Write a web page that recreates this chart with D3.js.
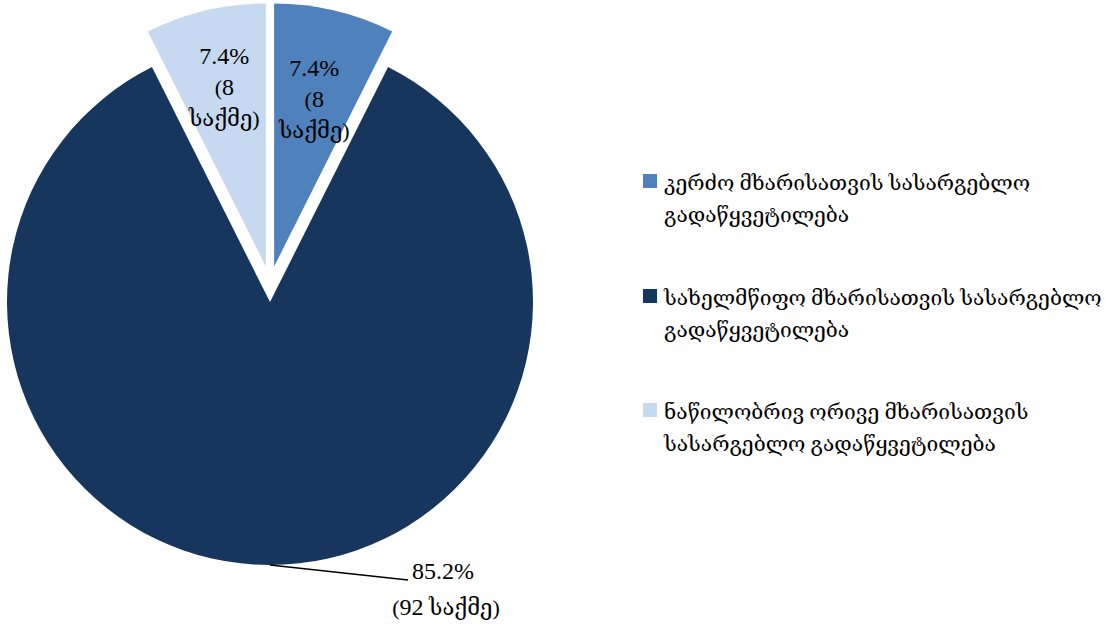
<!DOCTYPE html>
<html><head><meta charset="utf-8">
<script src="https://cdn.jsdelivr.net/npm/d3@7"></script>
<style>
body{margin:0;background:#fff;}
svg{display:block;}
text{font-family:"Liberation Serif","DejaVu Serif",serif;fill:#000;}
.num{font-size:24px;}
</style></head>
<body><svg id="c" width="1120" height="624"></svg>
<script>
const categories = ["კერძო მხარისათვის სასარგებლო გადაწყვეტილება",
  "სახელმწიფო მხარისათვის სასარგებლო გადაწყვეტილება",
  "ნაწილობრივ ორივე მხარისათვის სასარგებლო გადაწყვეტილება"];
const legendLines = [["კერძო მხარისათვის სასარგებლო","გადაწყვეტილება"],
  ["სახელმწიფო მხარისათვის სასარგებლო","გადაწყვეტილება"],
  ["ნაწილობრივ ორივე მხარისათვის","სასარგებლო გადაწყვეტილება"]];
const counts = [8, 92, 8];
const percents = ["7.4%", "85.2%", "7.4%"];
const caseWord = "საქმე";
const colors = ["#4F81BD", "#17365D", "#C6D9F1"];

const svg = d3.select("#c");
const cx = 270, cy = 284, R = 263, explode = 18;
const pie = d3.pie().sort(null).value(d => d)(counts);
const arc = d3.arc().innerRadius(0).outerRadius(R);
const g = svg.append("g").attr("transform", `translate(${cx},${cy})`);

function off(d, r) {
  const a = (d.startAngle + d.endAngle) / 2;
  return [Math.sin(a) * r, -Math.cos(a) * r];
}
g.selectAll("path").data(pie).join("path")
  .attr("d", arc)
  .attr("fill", (d, i) => colors[i])
  .attr("transform", d => { const o = off(d, explode); return `translate(${o[0]},${o[1]})`; });

const fs = 22, lh = 31;
const labelR = [174, 0, 180];
const labelDy = [3, 0, -3];
pie.forEach((d, i) => {
  if (i === 1) return;
  const o = off(d, explode);
  const p = off(d, labelR[i]);
  const x = o[0] + p[0], y = o[1] + p[1] + labelDy[i];
  const t = g.append("text").attr("text-anchor", "middle").style("font-size", fs + "px");
  t.append("tspan").attr("class", "num").attr("x", x).attr("y", y - lh + 7).text(percents[i]);
  t.append("tspan").attr("x", x).attr("y", y + 7).text("(").append("tspan").attr("class", "num").text(counts[i]);
  t.append("tspan").attr("x", x).attr("y", y + lh + 7).text(caseWord + ")");
});

{
  const d = pie[1];
  const o = off(d, explode);
  const e = off(d, R);
  const sx = o[0] + e[0], sy = o[1] + e[1];
  const ex = 408 - cx, ey = 580 - cy;
  g.append("path").attr("d", `M${sx},${sy}L${ex},${ey}`).attr("stroke", "#000").attr("stroke-width", 1.3).attr("fill", "none");
  const t = g.append("text").attr("text-anchor", "middle").style("font-size", fs + "px");
  t.append("tspan").attr("class", "num").attr("x", 443 - cx).attr("y", 579 - cy).text(percents[1]);
  const t2 = g.append("text").attr("text-anchor", "middle").style("font-size", fs + "px")
    .attr("x", 446 - cx).attr("y", 615 - cy);
  t2.append("tspan").text("(");
  t2.append("tspan").attr("class", "num").text(counts[1]);
  t2.append("tspan").text(" " + caseWord + ")");
}

const lg = svg.append("g").attr("transform", "translate(643,0)");
const entryY = [183, 298, 412];
legendLines.forEach((lines, i) => {
  lg.append("rect").attr("x", 0).attr("y", entryY[i] - 9).attr("width", 14).attr("height", 14).attr("fill", colors[i]);
  const t = lg.append("text").style("font-size", "21px");
  lines.forEach((s, k) => t.append("tspan").attr("x", 21).attr("y", entryY[i] + 7 + k * 32).text(s));
});
</script></body></html>
